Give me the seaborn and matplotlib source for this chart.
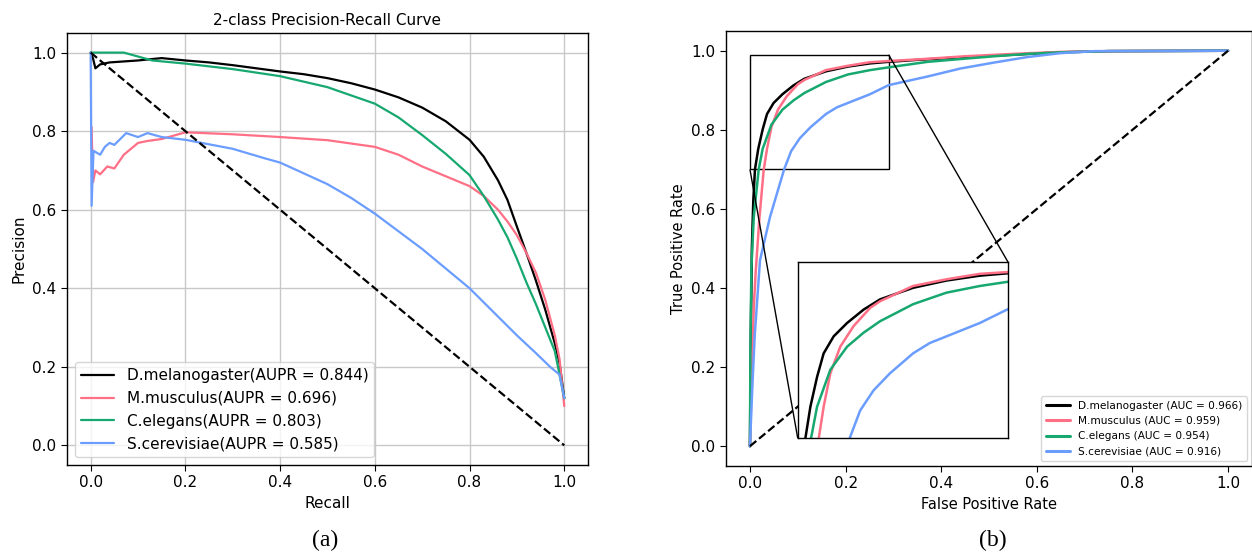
import matplotlib
matplotlib.use("Agg")
import matplotlib.pyplot as plt
import seaborn as sns
from mpl_toolkits.axes_grid1.inset_locator import mark_inset

# ---- (a) precision-recall curves ----
species = ["D.melanogaster", "M.musculus", "C.elegans", "S.cerevisiae"]
aupr = [0.844, 0.696, 0.803, 0.585]
auc = [0.966, 0.959, 0.954, 0.916]
colors = ["black", "#ff6f86", "#17a870", "#6b9dff"]

pr_dm_recall = [0.0, 0.005, 0.01, 0.02, 0.04, 0.1, 0.15, 0.2, 0.25, 0.3, 0.35, 0.4, 0.45, 0.5,
                0.55, 0.6, 0.65, 0.7, 0.75, 0.8, 0.83, 0.86, 0.88, 0.9, 0.92, 0.94, 0.96,
                0.98, 0.99, 1.0]
pr_dm_prec = [1.0, 0.985, 0.96, 0.97, 0.975, 0.98, 0.986, 0.98, 0.975, 0.968, 0.96, 0.952,
              0.945, 0.935, 0.922, 0.906, 0.886, 0.86, 0.825, 0.778, 0.735, 0.675, 0.625,
              0.557, 0.49, 0.42, 0.345, 0.26, 0.21, 0.12]

pr_mm_recall = [0.002, 0.005, 0.01, 0.02, 0.035, 0.05, 0.07, 0.1, 0.12, 0.15, 0.2, 0.3, 0.4,
                0.5, 0.6, 0.65, 0.7, 0.75, 0.8, 0.83, 0.86, 0.88, 0.9, 0.92, 0.94, 0.96, 0.98,
                0.99, 1.0]
pr_mm_prec = [0.81, 0.67, 0.70, 0.69, 0.71, 0.705, 0.74, 0.77, 0.775, 0.78, 0.797, 0.792,
              0.785, 0.777, 0.76, 0.74, 0.71, 0.685, 0.66, 0.635, 0.60, 0.57, 0.535, 0.49,
              0.44, 0.37, 0.28, 0.22, 0.10]

pr_ce_recall = [0.0, 0.07, 0.1, 0.13, 0.2, 0.3, 0.4, 0.5, 0.6, 0.65, 0.7, 0.75, 0.8, 0.83,
                0.86, 0.88, 0.9, 0.92, 0.94, 0.96, 0.98, 1.0]
pr_ce_prec = [1.0, 1.0, 0.99, 0.98, 0.972, 0.958, 0.94, 0.912, 0.87, 0.835, 0.79, 0.742,
              0.688, 0.635, 0.575, 0.53, 0.475, 0.415, 0.36, 0.30, 0.24, 0.12]

pr_sc_recall = [0.0, 0.002, 0.006, 0.02, 0.03, 0.04, 0.05, 0.075, 0.1, 0.12, 0.15, 0.2, 0.3,
                0.37, 0.4, 0.5, 0.55, 0.6, 0.65, 0.7, 0.75, 0.8, 0.85, 0.9, 0.94, 0.97, 0.99,
                1.0]
pr_sc_prec = [1.0, 0.61, 0.75, 0.74, 0.76, 0.77, 0.765, 0.795, 0.785, 0.795, 0.785, 0.778,
              0.755, 0.73, 0.72, 0.665, 0.63, 0.59, 0.545, 0.50, 0.45, 0.40, 0.34, 0.28,
              0.235, 0.20, 0.18, 0.12]

# ---- (b) ROC curves ----
roc_dm_fpr = [0.0, 0.002, 0.004, 0.007, 0.0105, 0.0174, 0.0266, 0.0357, 0.0495, 0.068, 0.0907,
              0.1136, 0.159, 0.205, 0.251, 0.29, 0.35, 0.45, 0.55, 0.65, 0.75, 1.0]
roc_dm_tpr = [0.0, 0.3, 0.5, 0.62, 0.70, 0.752, 0.801, 0.84, 0.868, 0.89, 0.912, 0.929, 0.948,
              0.96, 0.968, 0.972, 0.977, 0.984, 0.99, 0.996, 0.999, 1.0]

roc_mm_fpr = [0.0, 0.004, 0.008, 0.012, 0.02, 0.0289, 0.0357, 0.0449, 0.0586, 0.077, 0.0999,
              0.1136, 0.159, 0.205, 0.251, 0.29, 0.35, 0.45, 0.55, 0.65, 0.75, 1.0]
roc_mm_tpr = [0.0, 0.2, 0.35, 0.44, 0.58, 0.70, 0.752, 0.807, 0.851, 0.885, 0.915, 0.926, 0.951,
              0.962, 0.971, 0.974, 0.978, 0.986, 0.992, 0.997, 0.999, 1.0]

roc_ce_fpr = [0.0, 0.001, 0.003, 0.008, 0.0183, 0.0266, 0.0449, 0.068, 0.0907, 0.1136, 0.159,
              0.205, 0.251, 0.29, 0.372, 0.45, 0.51, 0.58, 0.65, 0.75, 1.0]
roc_ce_tpr = [0.0, 0.25, 0.45, 0.58, 0.70, 0.752, 0.813, 0.851, 0.874, 0.893, 0.921, 0.94,
              0.951, 0.958, 0.972, 0.98, 0.986, 0.992, 0.996, 0.999, 1.0]

roc_sc_fpr = [0.0, 0.005, 0.01, 0.021, 0.042, 0.0715, 0.0861, 0.1045, 0.127, 0.159, 0.182,
              0.205, 0.251, 0.29, 0.372, 0.44, 0.51, 0.58, 0.65, 0.72, 1.0]
roc_sc_tpr = [0.0, 0.15, 0.28, 0.47, 0.58, 0.70, 0.746, 0.779, 0.807, 0.84, 0.857, 0.868, 0.89,
              0.913, 0.935, 0.955, 0.97, 0.984, 0.994, 0.999, 1.0]

pr_curves = [(pr_dm_recall, pr_dm_prec), (pr_mm_recall, pr_mm_prec),
             (pr_ce_recall, pr_ce_prec), (pr_sc_recall, pr_sc_prec)]
roc_curves = [(roc_dm_fpr, roc_dm_tpr), (roc_mm_fpr, roc_mm_tpr),
              (roc_ce_fpr, roc_ce_tpr), (roc_sc_fpr, roc_sc_tpr)]

sns.set_style("ticks")
plt.rcParams["font.family"] = ["DejaVu Sans"]
plt.rcParams["axes.edgecolor"] = "black"
plt.rcParams["axes.linewidth"] = 1.0
for key in ["text.color", "axes.labelcolor", "xtick.color", "ytick.color"]:
    plt.rcParams[key] = "black"

fig = plt.figure(figsize=(12.52, 5.55), dpi=100)

# left panel: PR
ax1 = fig.add_axes([0.0535, 0.1622, 0.4161, 0.7784])
for (x, y), name, a, c in zip(pr_curves, species, aupr, colors):
    sns.lineplot(x=x, y=y, ax=ax1, sort=False, estimator=None, color=c, lw=1.6,
                 label=f"{name}(AUPR = {a:.3f})")
ax1.plot([0, 1], [1, 0], "k--", lw=1.6)
ax1.set_xlim(-0.05, 1.05)
ax1.set_ylim(-0.05, 1.05)
ax1.set_xticks([0, 0.2, 0.4, 0.6, 0.8, 1.0])
ax1.set_yticks([0, 0.2, 0.4, 0.6, 0.8, 1.0])
ax1.grid(True, color="#c8c8c8", lw=1.0)
ax1.tick_params(labelsize=11, length=4)
ax1.set_xlabel("Recall", fontsize=11)
ax1.set_ylabel("Precision", fontsize=11)
ax1.set_title("2-class Precision-Recall Curve", fontsize=11)
ax1.legend(loc="lower left", fontsize=11, frameon=True, framealpha=0.8,
           handlelength=2.2, borderpad=0.4)

# right panel: ROC with zoomed inset
ax2 = fig.add_axes([0.5799, 0.1604, 0.4201, 0.7838])
for (x, y), name, a, c in zip(roc_curves, species, auc, colors):
    sns.lineplot(x=x, y=y, ax=ax2, sort=False, estimator=None, color=c, lw=1.8,
                 label=f"{name} (AUC = {a:.3f})")
ax2.plot([0, 1], [0, 1], "k--", lw=1.6)
ax2.set_xlim(-0.05, 1.05)
ax2.set_ylim(-0.05, 1.05)
ax2.set_xticks([0, 0.2, 0.4, 0.6, 0.8, 1.0])
ax2.set_yticks([0, 0.2, 0.4, 0.6, 0.8, 1.0])
ax2.tick_params(labelsize=11, length=4)
ax2.set_xlabel("False Positive Rate", fontsize=10.5)
ax2.set_ylabel("True Positive Rate", fontsize=10.5)
leg = ax2.legend(loc="lower right", fontsize=7.6, frameon=True, framealpha=0.8,
                 handlelength=2.3, borderpad=0.4)
for line in leg.get_lines():
    line.set_linewidth(2.2)

axins = ax2.inset_axes([0.10, 0.02, 0.44, 0.445], transform=ax2.transData)
for (x, y), c in zip(roc_curves, colors):
    sns.lineplot(x=x, y=y, ax=axins, sort=False, estimator=None, color=c, lw=1.8)
axins.set_xlim(0.0, 0.29)
axins.set_ylim(0.70, 0.99)
axins.set_xticks([])
axins.set_yticks([])
axins.set_xlabel("")
axins.set_ylabel("")
for s in axins.spines.values():
    s.set_color("black")
    s.set_linewidth(1.0)
mark_inset(ax2, axins, loc1=1, loc2=3, fc="none", ec="black", lw=1.0)

fig.text(0.26, 0.027, "(a)", fontsize=17, family=["Liberation Serif", "DejaVu Serif"],
         ha="center", va="center")
fig.text(0.793, 0.027, "(b)", fontsize=17, family=["Liberation Serif", "DejaVu Serif"],
         ha="center", va="center")

fig.savefig("out.png", dpi=100)
